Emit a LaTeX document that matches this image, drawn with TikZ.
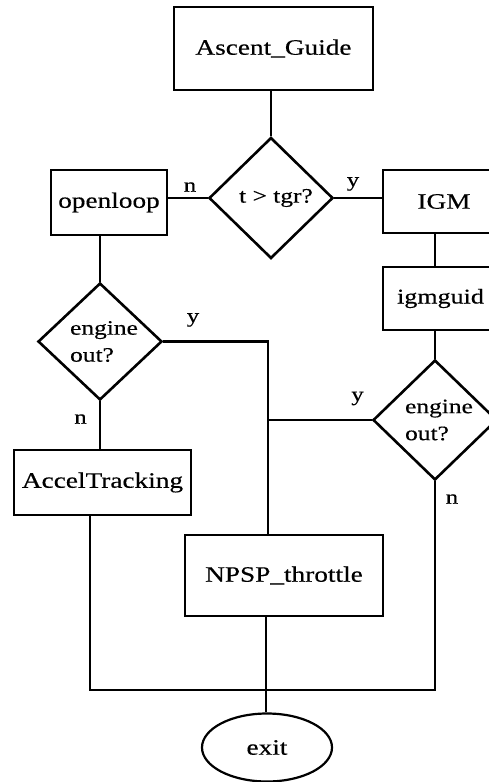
\documentclass[tikz,border=0pt]{standalone}
\usepackage{fontspec}
\setmainfont{Liberation Serif}[FakeStretch=1.24,FakeBold=0.4]
\usetikzlibrary{shapes.geometric}
\begin{document}
\begin{tikzpicture}[x=1pt,y=-1pt,line width=2.4pt,
  every node/.style={font=\fontsize{22}{26}\selectfont},
  box/.style={draw,rectangle,inner sep=0pt,line width=2.2pt},
  decision/.style={draw,diamond,inner sep=0pt,align=left,line width=2.6pt,
    font=\fontsize{20.5}{27}\selectfont},
  oval/.style={draw,ellipse,inner sep=0pt,line width=2.2pt},
  lbl/.style={inner sep=0pt,font=\fontsize{20}{24}\selectfont}]
\useasboundingbox (0,0) rectangle (489,782);
\clip (0,0) rectangle (489,782);

% process boxes
\node[box,minimum width=199pt,minimum height=83pt] (guide) at (273.5,48.5) {Ascent\_Guide};
\node[box,minimum width=116pt,minimum height=65pt] (openloop) at (109,202.5) {openloop};
\node[box,minimum width=122pt,minimum height=63pt] (igm) at (444,201.5) {IGM};
\node[box,anchor=west,inner xsep=14pt,minimum height=63pt,
  font=\fontsize{21}{25}\selectfont] (igmguid) at (382,298.5) {igmguid\hspace{8pt}};
\node[box,minimum width=177pt,minimum height=65pt] (accel) at (102.5,482.5) {AccelTracking};
\node[box,minimum width=198pt,minimum height=81pt] (npsp) at (284,575.5) {NPSP\_throttle};
\node[oval,minimum width=130pt,minimum height=68pt] (exit) at (267,747.5) {exit};

% decisions
\node[decision,minimum width=124pt,minimum height=121pt] (q1) at (271,198) {\hspace{10pt}t > tgr?};
\node[decision,minimum width=124pt,minimum height=117pt] (q2) at (100,341.5) {\hspace{8pt}engine\\\hspace{8pt}out?};
\node[decision,minimum width=124pt,minimum height=120pt] (q3) at (435,420) {\hspace{8pt}engine\\\hspace{8pt}out?};

% branch labels
\node[lbl] (n1) at (190,187) {n};
\node[lbl] (y1) at (353,184) {y};
\node[lbl] (y2) at (193,320) {y};
\node[lbl] (n2) at (80.5,419) {n};
\node[lbl] (y3) at (357.5,398.5) {y};
\node[lbl] (n3) at (452,499) {n};

% helper positions for the trunk lines
\coordinate (jx) at (268,0);
\coordinate (ax) at (90,0);
\coordinate (ex) at (266,0);
\coordinate (bus) at (0,690);

% connectors
\draw (q1.north |- guide.south) -- (q1.north);
\draw (q1.west) -- (q1.west -| openloop.east);
\draw (q1.east) -- (q1.east -| igm.west);
\draw (q3.north |- igm.south) -- (q3.north |- igmguid.north);
\draw (q3.north |- igmguid.south) -- (q3.north);
\draw (q2.north |- openloop.south) -- (q2.north);
\draw (q2.south) -- (q2.south |- accel.north);
\draw (q2.east) -- (q2.east -| jx) -- (jx |- npsp.north);
\draw (q3.west) -- (q3.west -| jx);
\draw (q3.south) -- (q3.south |- bus) -- (bus -| ax) -- (ax |- accel.south);
\draw (ex |- npsp.south) -- (ex |- exit.north);
\end{tikzpicture}
\end{document}
